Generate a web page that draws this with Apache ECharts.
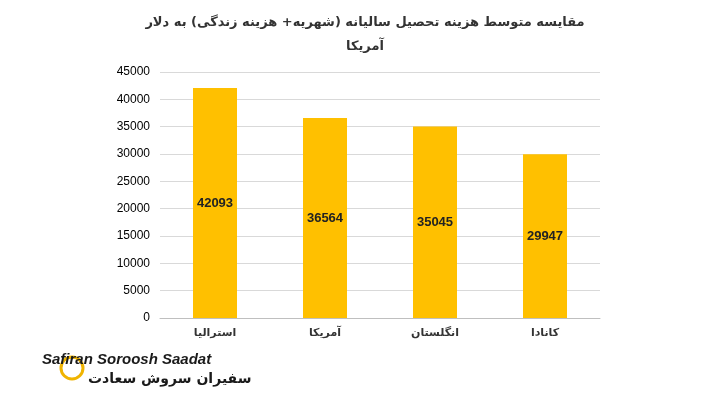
<!DOCTYPE html>
<html><head><meta charset="utf-8">
<script src="https://cdn.jsdelivr.net/npm/echarts@6/dist/echarts.min.js"></script>
<style>body{margin:0;background:#fff}#c{width:719px;height:405px}</style>
</head><body><div id="c"></div>
<script>
const categories = ["استرالیا","آمریکا","انگلستان","کانادا"];
const values = [42093, 36564, 35045, 29947];
const titleText = "مقایسه متوسط هزینه تحصیل سالیانه (شهریه+ هزینه زندگی) به دلار\nآمریکا";
const chart = echarts.init(document.getElementById('c'));
chart.setOption({
  animation:false,
  title:{text:titleText,left:360,top:6,textAlign:'center',textStyle:{fontFamily:'DejaVu Sans',fontSize:13,fontWeight:'bold',color:'#333',lineHeight:24}},
  grid:{left:160,right:119,top:72,bottom:87},
  xAxis:{type:'category',data:categories,axisTick:{show:false},axisLine:{lineStyle:{color:'#bfbfbf'}},
    axisLabel:{fontFamily:'DejaVu Sans',fontSize:11,fontWeight:'bold',color:'#333',margin:10}},
  yAxis:{type:'value',min:0,max:45000,interval:5000,axisLine:{show:false},axisTick:{show:false},
    splitLine:{lineStyle:{color:'#d9d9d9'}},axisLabel:{formatter:v=>String(v),fontFamily:'Liberation Sans',fontSize:12,color:'#000',margin:10}},
  series:[{type:'bar',data:values,barWidth:44,itemStyle:{color:'#FFC000'},
    label:{show:true,position:'inside',fontFamily:'Liberation Sans',fontSize:13,fontWeight:'bold',color:'#222'}}],
  graphic:[
    {type:'circle',shape:{cx:72,cy:368,r:11},style:{fill:'none',stroke:'#f0b400',lineWidth:3}},
    {type:'text',left:42,top:352,style:{text:'Safiran Soroosh Saadat',font:'italic bold 15px Liberation Sans',fill:'#1a1a1a'}},
    {type:'text',left:88,top:372,style:{text:'سفیران سروش سعادت',font:'bold 14px DejaVu Sans',fill:'#1a1a1a'}}
  ]
});
</script></body></html>
